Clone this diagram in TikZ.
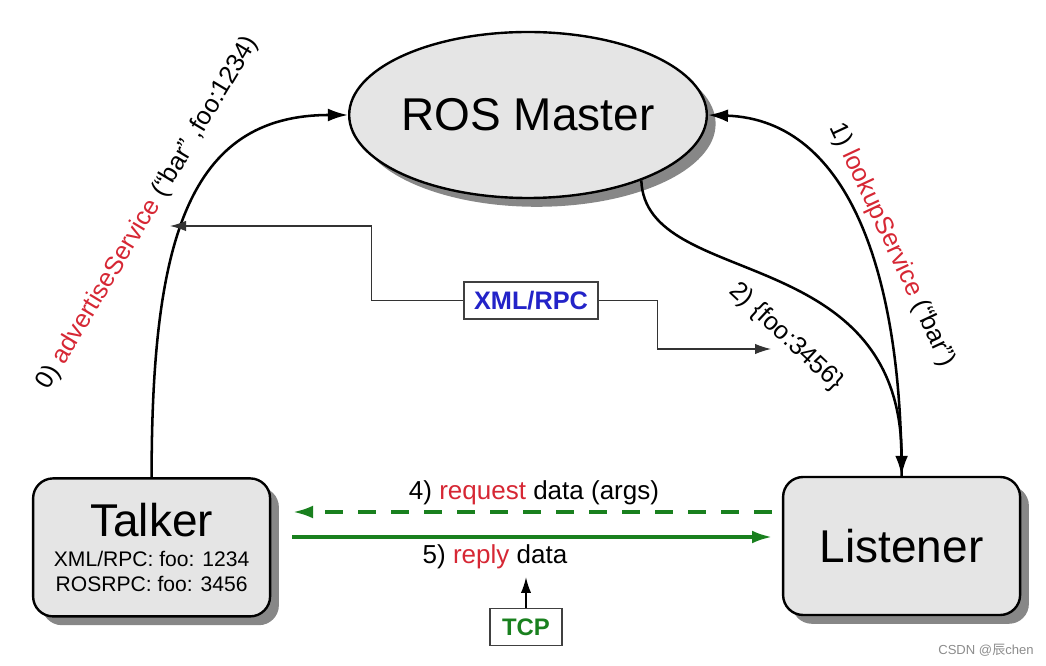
\documentclass[tikz,border=0pt]{standalone}
\usepackage{fontspec}
\setmainfont{Liberation Sans}
\newfontfamily\cjkfont{Noto Sans CJK SC}
\usetikzlibrary{arrows.meta,shadows,shapes.geometric}

\definecolor{rosred}{RGB}{214,39,52}
\definecolor{rosblue}{RGB}{35,35,200}
\definecolor{rosgreen}{RGB}{25,128,30}
\definecolor{boxgray}{RGB}{229,229,229}
\definecolor{shadowgray}{RGB}{135,135,135}

\begin{document}
\begin{tikzpicture}[
  shade box/.style={draw=black,line width=1.7pt,fill=boxgray,
    drop shadow={shadow xshift=0.22cm,shadow yshift=-0.22cm,fill=shadowgray,opacity=1}},
  agent/.style={shade box,rounded corners=0.5cm,minimum width=5.925cm,minimum height=3.45cm,
    inner sep=0pt,align=center},
  big/.style={font=\fontsize{32.7}{36}\selectfont},
  lbl/.style={font=\fontsize{18}{21}\selectfont,inner sep=0pt},
  tag/.style={draw=black!75,line width=0.8pt,fill=white,inner sep=0pt,font=\fontsize{18}{21}\selectfont\bfseries},
  call/.style={line width=1.8pt,-{Latex[length=0.5cm,width=0.32cm]}},
  rpc/.style={line width=0.8pt,black!80,-{Latex[length=0.4cm,width=0.26cm]}},
  tcp/.style={line width=2.3pt,rosgreen,-{Latex[length=0.5cm,width=0.32cm]}}
]
\useasboundingbox (0,0) rectangle (26.15,16.625);

%---------------------------------------------------
\node[shade box,ellipse,minimum width=8.35cm,minimum height=4.15cm,inner sep=0pt,big]
  (master) at (13.2,13.75) {ROS Master};
\node[agent,font=\fontsize{15}{17.8}\selectfont] (talker) at (3.79,2.94)
  {{\fontsize{32.7}{36}\selectfont Talker}\\[3pt]
   XML/RPC: foo: 1234\\
   ROSRPC: foo: 3456};
\node[agent,big] (listener) at (22.54,2.975) {Listener};

%---------------------------------------------------
\draw[call] (talker.north) .. controls +(0,5.9) and +(-4,0) .. (master.west);
\draw[call] (listener.north) .. controls +(0,4.925) and +(3.575,-0.125) .. (master.east);
\draw[call] (master.-30) .. controls +(0.1,-2.75) and +(0,5.9) .. (listener.north);

\node[lbl,rotate=59] (advlbl) at (3.7,11.3)
  {0) \textcolor{rosred}{advertiseService} (“bar” ,foo:1234)};
\node[lbl,rotate=-65] (looklbl) at (22.3,10.5)
  {1) \textcolor{rosred}{lookupService} (“bar”)};
\node[lbl,rotate=-43] (foolbl) at (19.65,8.2) {2) \{foo:3456\}};

%---------------------------------------------------
\node[tag,text=rosblue,minimum width=3.35cm,minimum height=0.925cm] (xmlrpc) at (13.275,9.1125) {XML/RPC};
\coordinate (advtip) at (4.25,10.975);
\coordinate (footip) at (19.275,7.9);
\draw[rpc] (xmlrpc.west) -- ++(-2.3,0) |- (advtip);
\draw[rpc] (xmlrpc.east) -- ++(1.475,0) |- (footip);

%---------------------------------------------------
\coordinate (reqA) at (19.3,3.825);
\coordinate (reqB) at (7.325,3.825);
\coordinate (repA) at (7.3,3.2);
\coordinate (repB) at (19.3,3.2);
\draw[tcp,dash pattern=on 12.8pt off 10.7pt] (reqA) -- (reqB);
\draw[tcp] (repA) -- (repB);
\node[lbl,font=\fontsize{18.5}{21}\selectfont] (reqlbl) at (13.35,4.3)
  {4) \textcolor{rosred}{request} data (args)};
\node[lbl,font=\fontsize{18.5}{21}\selectfont] (replbl) at (12.375,2.7)
  {5) \textcolor{rosred}{reply} data};

\node[tag,text=rosgreen,font=\fontsize{17}{20}\selectfont\bfseries,minimum width=1.8cm,minimum height=0.925cm]
  (tcpbox) at (13.15,0.95) {TCP};
\coordinate (tcptip) at (13.15,2.2);
\draw[rpc,line width=1.3pt,black] (tcpbox.north) -- (tcptip);

%---------------------------------------------------
\node[text=black!45,font=\fontsize{9.3}{11}\selectfont] (mark) at (24.65,0.375) {CSDN @{\cjkfont 辰}chen};
\end{tikzpicture}
\end{document}
